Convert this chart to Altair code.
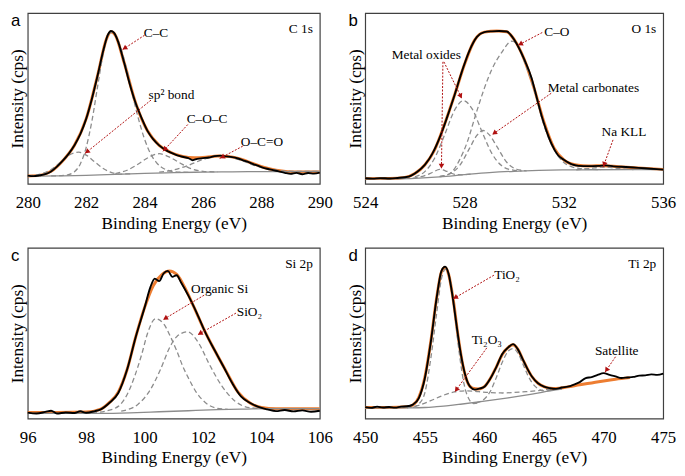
import math
import altair as alt
import pandas as pd

# ---------------- data (x = binding energy eV, y = relative intensity 0-100) ----------------
panel_letters = ["a", "b", "c", "d"]
panel_titles = ["C 1s", "O 1s", "Si 2p", "Ti 2p"]

# ---- panel a : C 1s ----
a_exp = [(280.0, 4.8), (280.2, 4.5), (280.4, 4.9), (280.6, 5.6), (280.8, 7.2), (281.0, 10.0), (281.2, 13.5),
         (281.4, 17.5), (281.6, 22.5), (281.8, 29.0), (282.0, 38.0), (282.2, 50.0), (282.4, 64.0), (282.6, 79.0),
         (282.75, 87.5), (282.85, 89.5), (282.95, 88.5), (283.1, 83.0), (283.3, 71.0), (283.5, 58.0), (283.7, 47.0),
         (283.9, 38.5), (284.1, 31.0), (284.3, 26.0), (284.5, 22.5), (284.7, 20.0), (284.9, 18.2), (285.1, 16.8),
         (285.3, 15.8), (285.5, 15.0), (285.65, 13.8), (285.8, 14.6), (286.0, 15.0), (286.2, 15.4), (286.4, 16.2),
         (286.6, 16.5), (286.8, 16.0), (287.0, 15.6), (287.2, 14.8), (287.4, 13.6), (287.6, 12.4), (287.8, 11.0),
         (288.0, 9.8), (288.2, 8.8), (288.4, 8.0), (288.6, 7.2), (288.8, 6.4), (289.0, 5.8), (289.2, 6.4),
         (289.4, 5.6), (289.6, 6.3), (289.8, 5.9), (290.0, 6.5)]
a_fit = [(280.0, 4.6), (280.4, 4.9), (280.8, 7.3), (281.2, 13.5), (281.6, 22.5), (282.0, 38.0), (282.4, 64.0),
         (282.7, 85.0), (282.85, 89.0), (283.0, 87.0), (283.3, 71.0), (283.7, 47.0), (284.1, 31.0), (284.5, 22.5),
         (284.9, 18.3), (285.3, 16.0), (285.7, 15.2), (286.1, 15.5), (286.5, 16.2), (286.9, 15.9), (287.3, 14.4),
         (287.7, 11.9), (288.1, 9.5), (288.5, 7.9), (288.9, 7.1), (289.3, 6.9), (290.0, 6.9)]
a_bg = [(280.0, 4.5), (281.0, 4.6), (282.0, 4.9), (283.0, 5.5), (284.0, 6.1), (285.0, 6.5), (286.0, 6.8),
        (287.0, 7.0), (288.0, 7.1), (290.0, 7.2)]
a_sp2 = [(280.0, 4.6), (280.5, 6.0), (280.8, 8.3), (281.1, 12.3), (281.4, 16.6), (281.75, 18.5), (282.0, 16.8),
         (282.3, 12.7), (282.6, 8.8), (282.9, 6.4), (283.2, 5.7), (283.6, 5.9)]
a_cc = [(280.8, 4.6), (281.3, 5.0), (281.6, 7.1), (281.8, 11.6), (282.0, 21.2), (282.2, 37.0), (282.4, 57.8),
        (282.6, 77.7), (282.75, 86.9), (282.85, 88.5), (283.0, 87.1), (283.2, 78.8), (283.4, 66.0), (283.6, 51.3),
        (283.8, 37.5), (284.0, 26.1), (284.2, 17.8), (284.4, 12.5), (284.7, 8.5), (285.0, 7.1), (285.5, 6.7)]
a_coc = [(283.0, 6.0), (283.4, 7.9), (283.8, 11.7), (284.1, 15.1), (284.5, 17.6), (284.9, 15.2), (285.2, 12.3),
         (285.6, 8.8), (286.0, 7.3), (286.5, 6.9)]
a_oco = [(284.5, 6.8), (285.0, 8.1), (285.5, 10.8), (286.0, 14.2), (286.6, 16.4), (287.2, 14.3), (287.7, 11.1),
         (288.2, 8.7), (288.7, 7.6), (289.3, 7.2), (290.0, 7.2)]
a_labels = [("C–C", 284.39, 88.0), ("sp² bond", 284.92, 52.0), ("C–O–C", 286.14, 38.0), ("O–C=O", 288.02, 24.4)]
a_arrows = [(284.0, 87.0, 283.23, 78.4), (284.22, 49.0, 281.95, 17.6), (285.48, 34.7, 284.62, 18.8),
            (287.36, 22.0, 286.57, 14.8)]

# ---- panel b : O 1s ----
b_exp = [(524.0, 3.2), (524.3, 3.0), (524.6, 3.3), (525.0, 3.1), (525.3, 3.4), (525.6, 3.8), (525.85, 4.8),
         (526.1, 7.0), (526.4, 11.0), (526.7, 17.5), (527.0, 27.0), (527.3, 39.0), (527.6, 52.0), (527.9, 66.0),
         (528.2, 78.0), (528.5, 86.0), (528.8, 88.8), (529.1, 89.3), (529.4, 89.5), (529.7, 89.2), (529.9, 86.5),
         (530.1, 82.0), (530.4, 73.0), (530.7, 62.0), (530.9, 51.0), (531.1, 40.0), (531.3, 31.0), (531.5, 23.5),
         (531.75, 17.0), (532.0, 14.0), (532.3, 11.5), (532.6, 10.5), (533.0, 10.3), (533.4, 10.5), (533.7, 10.8),
         (534.0, 10.2), (534.5, 9.8), (535.0, 9.3), (535.5, 8.8), (536.0, 8.3)]
b_fit = [(524.0, 3.0), (525.0, 3.1), (525.6, 3.7), (526.0, 6.0), (526.4, 11.0), (526.8, 20.0), (527.2, 35.0),
         (527.6, 52.0), (528.0, 70.0), (528.4, 84.0), (528.8, 88.8), (529.3, 89.5), (529.7, 89.0), (530.0, 84.5),
         (530.4, 73.0), (530.8, 56.0), (531.2, 36.0), (531.6, 21.0), (532.0, 14.0), (532.5, 11.0), (533.0, 10.4),
         (533.6, 10.6), (534.2, 10.0), (535.0, 9.3), (536.0, 8.4)]
b_bg = [(524.0, 2.8), (525.0, 2.9), (526.0, 3.2), (527.0, 4.0), (528.0, 5.3), (529.0, 6.5), (530.0, 7.3),
        (531.0, 7.8), (532.0, 8.1), (533.0, 8.2), (536.0, 8.3)]
b_oxide1 = [(525.6, 3.1), (526.0, 3.5), (526.4, 4.8), (526.7, 6.6), (527.0, 8.4), (527.3, 7.2), (527.6, 5.5),
            (527.9, 5.2), (528.3, 5.7)]
b_oxide2 = [(526.0, 4.1), (526.4, 7.1), (526.8, 15.1), (527.2, 28.7), (527.6, 43.1), (527.95, 48.7), (528.3, 44.0),
            (528.7, 30.6), (529.1, 17.8), (529.5, 10.5), (529.9, 8.1), (530.3, 7.5)]
b_carb = [(527.0, 4.2), (527.4, 5.7), (527.8, 10.6), (528.2, 20.7), (528.5, 28.4), (528.75, 31.2), (529.0, 28.6),
          (529.3, 21.9), (529.7, 12.6), (530.1, 8.5), (530.5, 7.6)]
b_co = [(527.0, 4.3), (527.3, 5.2), (527.5, 7.0), (527.8, 14.0), (528.1, 24.0), (528.44, 40.0), (528.8, 56.0),
        (529.1, 67.0), (529.5, 77.0), (529.9, 83.5), (530.1, 82.0), (530.4, 72.0), (530.7, 60.0), (530.9, 50.0),
        (531.1, 39.0), (531.3, 30.0), (531.5, 23.0), (531.75, 16.5), (532.0, 12.5), (532.3, 10.0), (532.6, 9.0),
        (533.0, 8.5), (533.5, 8.3)]
b_nakll = [(532.5, 8.2), (533.0, 8.9), (533.6, 9.8), (534.2, 8.9), (534.8, 8.3)]
b_labels = [("C–O", 531.72, 88.6), ("Metal oxides", 526.46, 75.4), ("Metal carbonates", 533.19, 56.0),
            ("Na KLL", 534.42, 30.3)]
b_arrows = [(531.13, 88.6, 530.14, 81.0), (527.13, 71.4, 527.07, 8.6), (527.17, 71.4, 527.9, 49.7),
            (531.49, 53.0, 529.1, 28.6), (533.98, 25.7, 533.58, 9.7)]

# ---- panel c : Si 2p ----
c_exp = [(96.0, 3.5), (96.3, 3.0), (96.6, 3.9), (96.8, 4.6), (97.0, 3.0), (97.3, 3.6), (97.6, 3.3), (97.8, 4.3),
         (98.0, 3.4), (98.3, 4.4), (98.5, 5.4), (98.8, 9.3), (99.1, 15.0), (99.4, 28.6), (99.7, 48.0), (100.0, 65.0),
         (100.2, 77.0), (100.35, 82.0), (100.5, 80.5), (100.65, 85.0), (100.8, 86.5), (100.95, 83.0), (101.1, 84.0),
         (101.25, 79.7), (101.5, 72.0), (101.8, 61.4), (102.1, 49.8), (102.4, 40.0), (102.7, 30.5), (103.0, 20.8),
         (103.3, 13.0), (103.6, 9.3), (103.9, 6.8), (104.2, 5.4), (104.5, 4.4), (104.8, 5.0), (105.1, 4.2),
         (105.4, 4.8), (105.7, 4.0), (106.0, 4.6)]
c_fit = [(96.0, 3.6), (97.0, 3.6), (98.0, 3.8), (98.5, 5.6), (98.8, 9.5), (99.1, 15.5), (99.4, 28.6), (99.7, 48.0),
         (100.0, 65.0), (100.3, 78.0), (100.6, 84.5), (100.85, 86.5), (101.1, 84.5), (101.4, 76.0), (101.7, 65.0),
         (102.0, 53.5), (102.4, 40.0), (102.8, 27.5), (103.2, 15.5), (103.6, 9.3), (104.0, 6.5), (104.5, 5.8),
         (105.0, 5.8), (106.0, 5.8)]
c_bg = [(96.0, 3.1), (98.5, 3.1), (99.5, 3.4), (100.5, 4.0), (101.5, 4.6), (102.5, 5.2), (103.5, 5.6),
        (104.2, 5.8), (106.0, 5.8)]
c_org = [(98.2, 3.4), (98.67, 4.4), (99.11, 7.3), (99.4, 14.0), (99.66, 24.7), (99.9, 37.5), (100.1, 49.8),
         (100.37, 58.5), (100.65, 55.6), (100.9, 47.5), (101.09, 40.2), (101.3, 31.0), (101.53, 22.8),
         (101.75, 16.0), (101.97, 11.2), (102.4, 6.4), (102.85, 5.4)]
c_sio2 = [(99.2, 4.4), (99.77, 8.3), (100.2, 17.0), (100.54, 28.6), (100.87, 42.0), (101.1, 48.0), (101.47, 50.8),
          (101.86, 44.0), (102.2, 32.4), (102.65, 19.0), (103.1, 10.2), (103.6, 6.4), (104.2, 5.8)]
c_labels = [("Organic Si", 102.57, 75.7), ("SiO₂", 103.59, 62.4)]
c_arrows = [(102.04, 72.3, 100.62, 57.8), (103.13, 61.8, 101.81, 49.0)]

# ---- panel d : Ti 2p ----
d_exp = [(450.0, 6.7), (450.5, 6.3), (451.0, 7.0), (451.5, 6.5), (452.0, 6.8), (452.5, 6.4), (453.0, 7.0),
         (453.5, 7.2), (454.0, 8.2), (454.5, 12.0), (455.0, 23.5), (455.5, 44.6), (456.0, 71.0), (456.4, 86.6),
         (456.7, 89.0), (457.0, 84.7), (457.3, 73.0), (457.6, 58.0), (458.0, 38.8), (458.4, 25.4), (458.8, 18.7),
         (459.2, 17.0), (459.6, 17.6), (460.0, 18.7), (460.5, 23.5), (461.0, 30.2), (461.5, 37.9), (462.0, 41.7),
         (462.4, 43.6), (462.8, 40.7), (463.2, 35.0), (463.6, 29.3), (464.0, 24.5), (464.5, 20.7), (465.0, 18.7),
         (465.5, 17.8), (466.0, 17.4), (466.5, 18.2), (467.0, 18.7), (467.5, 19.9), (468.0, 21.4), (468.5, 23.7),
         (469.0, 24.3), (469.5, 25.6), (470.0, 26.6), (470.5, 25.6), (471.0, 24.7), (471.5, 23.8), (472.0, 24.1),
         (472.5, 24.4), (473.0, 25.2), (473.5, 25.3), (474.0, 25.9), (474.5, 25.6), (475.0, 26.4)]
d_fit = [(450.0, 6.5), (452.0, 6.5), (453.5, 6.9), (454.0, 8.0), (454.5, 12.5), (455.0, 24.0), (455.5, 45.0),
         (456.0, 71.0), (456.4, 86.0), (456.7, 88.5), (457.0, 84.5), (457.4, 69.0), (457.8, 48.0), (458.2, 31.0),
         (458.6, 21.0), (459.0, 17.8), (459.5, 17.3), (460.0, 18.7), (460.5, 23.5), (461.0, 30.2), (461.5, 37.6),
         (462.0, 41.7), (462.4, 43.2), (462.8, 40.7), (463.2, 35.0), (463.6, 29.3), (464.0, 24.5), (464.5, 20.7),
         (465.0, 18.7), (465.5, 17.8), (466.0, 17.6), (467.0, 18.6), (468.0, 19.8), (469.0, 20.9), (470.0, 22.0),
         (471.0, 23.0), (472.2, 24.0)]
d_bg = [(450.0, 6.3), (454.0, 6.3), (455.0, 6.5), (456.0, 7.0), (457.0, 7.6), (458.0, 8.4), (460.0, 10.2),
        (462.0, 12.2), (464.0, 14.4), (466.0, 16.8), (466.5, 17.3)]
d_tio2_a = [(454.0, 6.5), (454.5, 8.5), (455.0, 15.0), (455.5, 35.0), (456.0, 62.0), (456.4, 82.0), (456.75, 87.5),
            (457.1, 82.0), (457.5, 62.0), (457.9, 38.0), (458.3, 20.0), (458.7, 11.5), (459.1, 8.8), (459.6, 9.3)]
d_tio2_b = [(459.3, 9.2), (460.0, 11.5), (460.5, 16.0), (461.0, 24.0), (461.5, 33.0), (462.0, 39.5), (462.4, 41.0),
            (462.8, 38.5), (463.2, 32.5), (463.6, 26.0), (464.0, 21.0), (464.5, 17.5), (465.0, 16.2), (465.6, 16.5)]
d_ti2o3 = [(453.5, 6.3), (454.5, 7.8), (455.5, 10.5), (456.5, 13.5), (457.5, 15.6), (458.5, 16.3), (459.5, 15.8),
           (460.5, 15.2), (461.5, 15.0), (462.5, 15.3), (463.5, 15.8), (464.5, 16.4), (465.5, 17.2), (466.2, 17.6)]
d_labels = [("TiO₂", 461.9, 84.0), ("Ti₂O₃", 460.2, 46.0), ("Satellite", 471.1, 39.7)]
d_arrows = [(460.8, 84.0, 457.34, 70.0), (460.2, 41.4, 457.5, 15.5), (471.0, 36.2, 470.1, 27.0)]

# ---------------- styling ----------------
SERIF = "Liberation Serif"
SANS = "Liberation Sans"
ORANGE = "#ED7D31"
GRAY = "#8C8C8C"
RED = "#B01010"


def pts(pairs):
    return pd.DataFrame(pairs, columns=["x", "y"])


def make_panel(letter, ptitle, exp, fit, bg, comps, labels, arrows, xdom, xticks, W, H):
    xs = alt.Scale(domain=xdom, nice=False, zero=False)
    ys = alt.Scale(domain=[0, 100], nice=False, zero=False)
    xax = alt.Axis(values=xticks, format="d", title="Binding Energy (eV)", grid=False, ticks=False,
                   domain=False, labelPadding=11, labelFlush=False, labelOverlap=False, labelFont=SERIF,
                   labelFontSize=17, labelColor="black", titleFont=SERIF, titleFontSize=17.5,
                   titleFontWeight="normal", titleColor="black", titlePadding=4)
    yax = alt.Axis(labels=False, ticks=False, domain=False, grid=False, title="Intensity (cps)",
                   titleFont=SERIF, titleFontSize=17.5, titleFontWeight="normal", titleColor="black",
                   titlePadding=1)
    X = alt.X("x:Q", scale=xs, axis=xax)
    Y = alt.Y("y:Q", scale=ys, axis=yax)

    fit_l = alt.Chart(pts(fit)).mark_line(color=ORANGE, strokeWidth=3.0, interpolate="monotone").encode(X, Y)
    bg_l = alt.Chart(pts(bg)).mark_line(color=GRAY, strokeWidth=1.3, interpolate="monotone").encode(X, Y)
    comp_df = pd.concat([pts(p).assign(comp=str(i)) for i, p in enumerate(comps)], ignore_index=True)
    comp_l = alt.Chart(comp_df).mark_line(color=GRAY, strokeWidth=1.3, strokeDash=[5, 3],
                                          interpolate="monotone").encode(X, Y, detail="comp:N")
    exp_l = alt.Chart(pts(exp)).mark_line(color="black", strokeWidth=1.9, interpolate="monotone").encode(X, Y)

    sx = W / (xdom[1] - xdom[0])
    sy = H / 100.0
    rows = []
    for (x0, y0, x1, y1) in arrows:
        dx = (x1 - x0) * sx
        dy = -(y1 - y0) * sy
        L = math.hypot(dx, dy)
        ang = math.degrees(math.atan2(dx, -dy)) % 360
        rows.append(dict(x=x0, y=y0, x2=x1, y2=y1,
                         hx=x1 - 3.0 * dx / L / sx, hy=y1 + 3.0 * dy / L / sy, angle=ang))
    adf = pd.DataFrame(rows)
    rule_l = alt.Chart(adf).mark_rule(color=RED, strokeWidth=1, strokeDash=[2, 1.5]).encode(
        X, Y, x2="x2:Q", y2="y2:Q")
    head_l = alt.Chart(adf).mark_point(shape="triangle-up", filled=True, color=RED, opacity=1,
                                       size=32, strokeWidth=0).encode(
        x=alt.X("hx:Q", scale=xs, axis=xax), y=alt.Y("hy:Q", scale=ys, axis=yax),
        angle=alt.Angle("angle:Q", scale=None))
    ldf = pd.DataFrame(labels, columns=["label", "x", "y"])
    text_l = alt.Chart(ldf).mark_text(font=SERIF, fontSize=13.5, color="black", align="center",
                                      baseline="middle").encode(X, Y, text="label:N")
    letter_l = alt.Chart(pd.DataFrame({"t": [letter]})).mark_text(
        font=SANS, fontSize=17, align="left", baseline="top", color="black").encode(
        x=alt.value(-17), y=alt.value(0), text="t:N")
    title_l = alt.Chart(pd.DataFrame({"t": [ptitle]})).mark_text(
        font=SERIF, fontSize=13.5, align="right", baseline="middle", color="black").encode(
        x=alt.value(W - 7), y=alt.value(16), text="t:N")
    return alt.layer(fit_l, bg_l, comp_l, exp_l, rule_l, head_l, text_l, letter_l, title_l).properties(
        width=W, height=H)


WL, WR, H = 296, 302, 173
pa = make_panel(panel_letters[0], panel_titles[0], a_exp, a_fit, a_bg, [a_sp2, a_cc, a_coc, a_oco],
                a_labels, a_arrows, [280, 290], [280, 282, 284, 286, 288, 290], WL, H)
pb = make_panel(panel_letters[1], panel_titles[1], b_exp, b_fit, b_bg, [b_oxide1, b_oxide2, b_carb, b_co, b_nakll],
                b_labels, b_arrows, [524, 536], [524, 528, 532, 536], WR, H)
pc = make_panel(panel_letters[2], panel_titles[2], c_exp, c_fit, c_bg, [c_org, c_sio2],
                c_labels, c_arrows, [96, 106], [96, 98, 100, 102, 104, 106], WL, H)
pd_ = make_panel(panel_letters[3], panel_titles[3], d_exp, d_fit, d_bg, [d_tio2_a, d_tio2_b, d_ti2o3],
                 d_labels, d_arrows, [450, 475], [450, 455, 460, 465, 470, 475], WR, H)

chart = alt.concat(pa, pb, pc, pd_, columns=2, spacing=alt.RowColnumber(row=65, column=46),
                   bounds="flush").properties(padding=0).configure_view(stroke="#404040", strokeWidth=1.2)

chart.save("out.html", embed_options={"renderer": "svg", "actions": False})
